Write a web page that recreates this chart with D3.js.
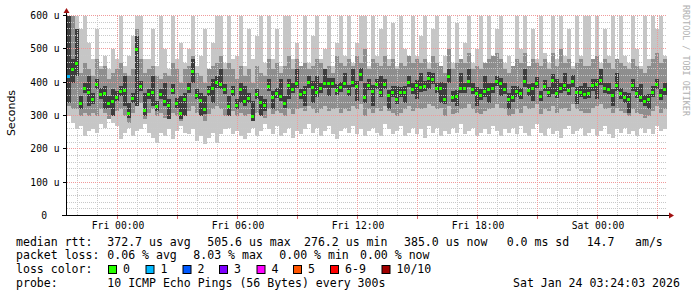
<!DOCTYPE html>
<html>
<head>
<meta charset="utf-8">
<script src="https://cdn.jsdelivr.net/npm/d3@7"></script>
<style>
  body { margin: 0; background: #fff; }
  text { font-family: "DejaVu Sans Mono", monospace; }
</style>
</head>
<body>
<svg id="chart" width="697" height="297"></svg>
<script>
// one sample every 12 minutes, starting Thu 21:30 (UTC)
const startTime = Date.UTC(2026, 0, 22, 21, 30);
const endTime = Date.UTC(2026, 0, 24, 3, 30);
const stepMs = 12 * 60 * 1000;

// median rtt (us)
const median = [
  420,440,460,340,385,372,350,395,366,370,
  340,345,358,374,378,310,355,500,390,318,
  365,372,330,365,344,332,378,340,308,352,
  385,436,364,349,320,374,385,402,395,380,
  329,375,334,380,344,355,300,365,342,332,
  390,356,369,360,340,392,382,400,366,372,
  402,388,372,385,400,398,398,378,386,398,
  376,403,390,425,358,392,376,395,372,395,
  362,372,350,372,372,402,382,392,388,390,
  415,412,385,385,352,420,358,360,384,385,
  405,380,370,364,374,382,385,405,398,382,
  350,358,374,368,405,378,385,398,360,390,
  372,408,370,385,392,378,405,372,372,366,
  370,392,395,408,384,382,362,392,368,356,
  352,392,370,358,345,350,372,395,364,380
];
// samples with lost pings: [sample index, lost of 10]
const lostPings = [[0, 1]];

// outer smoke: fastest / slowest ping
const pingMax = [
  640,640,640,560,600,520,470,560,450,480,
  440,500,470,600,450,480,540,600,620,470,
  470,560,450,600,500,440,600,470,520,460,
  500,600,450,480,560,440,520,600,640,460,
  600,470,480,620,450,560,470,540,600,460,
  640,470,560,450,600,620,470,520,450,600,
  460,540,640,470,500,600,450,520,620,480,
  600,460,520,600,640,450,640,480,560,600,
  470,580,450,620,500,460,600,480,540,640,
  460,560,600,450,480,620,460,580,450,520,
  620,460,500,600,450,640,470,560,600,460,
  480,450,620,500,600,450,560,470,640,490,
  460,600,470,620,480,560,450,640,480,600,
  620,470,640,460,560,480,600,450,620,480,
  460,640,500,450,600,470,640,560,600,480
];
const pingMin = [
  300,280,260,270,240,255,260,250,275,265,
  290,280,270,230,250,265,240,255,260,275,
  250,235,220,250,240,260,230,255,270,250,
  245,260,225,240,215,235,250,220,245,260,
  265,245,255,240,230,250,265,240,255,275,
  260,245,270,240,250,265,235,255,245,260,
  275,250,265,240,255,270,245,230,255,265,
  250,270,245,260,240,255,265,250,240,275,
  260,245,255,270,240,250,265,245,260,235,
  270,250,265,240,255,245,265,250,275,245,
  255,265,240,250,260,245,270,255,240,260,
  250,265,245,270,250,240,260,275,250,240,
  265,245,255,235,260,270,245,255,265,240,
  250,260,240,255,270,245,235,260,250,265,
  245,255,240,265,250,260,245,270,255,260
];
// middle smoke
const midLo = [
  330,320,320,300,310,300,310,300,320,310,
  290,300,315,320,300,280,310,330,340,290,
  310,320,300,310,295,290,310,300,285,310,
  315,330,310,300,285,305,320,330,320,300,
  300,315,300,310,300,305,290,310,300,295,
  320,305,315,310,300,320,305,320,325,315,
  330,320,310,320,330,315,320,325,310,320,
  315,330,320,335,300,320,310,325,315,330,
  315,310,300,310,320,330,315,325,320,325,
  335,330,320,325,300,330,305,310,320,325,
  335,320,310,305,315,320,325,335,325,320,
  300,305,320,310,330,320,325,335,305,320,
  315,330,310,320,325,315,335,320,315,310,
  310,325,330,335,320,325,310,325,315,310,
  300,320,310,305,295,300,315,330,310,320
];
const midHi = [
  640,600,560,430,460,440,420,470,440,450,
  410,430,440,460,430,420,440,560,470,430,
  440,450,420,410,430,420,460,440,400,440,
  450,480,430,420,400,440,450,460,480,440,
  460,440,410,450,420,440,400,450,430,420,
  470,440,460,430,450,480,440,470,450,460,
  440,450,470,460,440,450,430,480,460,450,
  470,450,480,460,500,440,470,460,450,480,
  450,470,440,460,450,480,460,470,460,470,
  440,480,460,450,430,500,440,460,470,460,
  490,440,450,440,460,470,480,490,470,440,
  430,450,470,460,490,450,470,460,450,470,
  440,490,450,500,460,470,440,460,470,450,
  450,470,480,440,470,460,440,470,460,450,
  440,470,450,440,430,450,470,490,460,470
];
// inner smoke
const innerLo = [
  340,400,420,320,370,330,335,380,350,320,
  325,300,345,360,330,295,340,330,375,300,
  350,330,315,350,330,290,365,325,290,300,
  370,400,350,300,305,360,340,385,380,365,
  300,360,320,340,330,340,285,350,300,315,
  375,320,355,345,325,350,368,385,350,330,
  385,340,358,370,385,360,383,362,372,383,
  360,388,345,405,340,377,330,380,358,380,
  320,357,335,357,340,386,367,350,372,375,
  380,395,370,340,337,400,342,330,368,370,
  388,365,330,348,358,340,370,390,360,367,
  320,342,358,352,388,360,345,383,345,374,
  356,365,355,370,376,362,388,335,357,350,
  355,376,350,392,368,366,330,376,352,340,
  310,376,355,342,330,320,356,380,348,364
];
const innerHi = [
  640,470,560,360,400,420,370,410,385,390,
  360,380,375,390,420,340,370,540,405,370,
  380,420,345,380,400,350,395,355,360,370,
  400,470,380,370,360,390,410,420,440,395,
  360,390,350,400,390,370,345,380,360,350,
  410,375,385,410,360,410,398,440,380,390,
  420,405,420,400,440,415,415,395,402,430,
  392,440,405,445,400,410,392,412,420,412,
  378,390,390,388,390,420,398,408,430,405,
  432,430,400,402,400,440,375,378,430,400,
  440,398,386,380,420,398,400,420,415,398,
  370,390,390,384,440,395,400,416,376,408,
  388,425,410,400,430,395,422,388,390,400,
  386,410,412,440,400,398,380,430,385,372,
  370,410,386,395,362,366,390,412,380,400
];

const yTicks = [0, 100, 200, 300, 400, 500, 600];
const lossLabels = ["0", "1", "2", "3", "4", "5", "6-9", "10/10"];
const lossColors = ["#26ff00", "#00b8ff", "#0059ff", "#7e00ff", "#ff00ff", "#ff5500", "#ff0000", "#a10000"];

const rttLine = [["median rtt:", 16], ["372.7 us avg", 107.3], ["505.6 us max", 207.3], ["276.2 us min", 304],
  ["385.0 us now", 404], ["0.0 ms sd", 506.7], ["14.7", 586.7], ["am/s", 635]];
const lossLine = [["packet loss:", 16], ["0.06 % avg", 107.3], ["8.03 % max", 193.3], ["0.00 % min", 279.3], ["0.00 % now", 360]];
const probeLine = [["probe:", 16], ["10 ICMP Echo Pings (56 Bytes) every 300s", 107.3], ["Sat Jan 24 03:24:03 2026", 513]];

const svg = d3.select("#chart");

const x = d3.scaleUtc().domain([new Date(startTime), new Date(endTime)]).range([67, 667]);
const y = d3.scaleLinear().domain([0, 600]).range([216, 16]).clamp(true);

const lostMap = new Map(lostPings);
const samples = median.map((m, i) => ({
  t0: new Date(startTime + i * stepMs),
  t1: new Date(startTime + (i + 1) * stepMs),
  median: m, loss: lostMap.get(i) || 0,
  min: pingMin[i], max: pingMax[i],
  midLo: midLo[i], midHi: midHi[i],
  inLo: innerLo[i], inHi: innerHi[i]
}));

// smoke layers
const layers = [
  { lo: "min", hi: "max", color: "#c6c6c6" },
  { lo: "midLo", hi: "midHi", color: "#8e8e8e" },
  { lo: "inLo", hi: "inHi", color: "#3d3d3d" }
];
layers.forEach(l => {
  svg.append("g").attr("shape-rendering", "crispEdges").selectAll("rect")
    .data(samples)
    .enter().append("rect")
    .attr("x", d => x(d.t0))
    .attr("width", d => x(d.t1) - x(d.t0))
    .attr("y", d => y(d[l.hi]))
    .attr("height", d => y(d[l.lo]) - y(d[l.hi]))
    .attr("fill", l.color);
});

// grid
const grid = svg.append("g").attr("shape-rendering", "crispEdges");
d3.range(20, 601, 20).filter(v => v % 100 !== 0).forEach(v => {
  grid.append("line").attr("x1", 67).attr("x2", 667).attr("y1", y(v) - 0.5).attr("y2", y(v) - 0.5)
    .attr("stroke", "#c8c8c8").attr("stroke-dasharray", "1,1");
});
x.ticks(d3.utcHour.every(1)).forEach(t => {
  if (t.getUTCHours() % 3 === 0) return;
  grid.append("line").attr("x1", x(t) + 0.5).attr("x2", x(t) + 0.5).attr("y1", 16).attr("y2", 215)
    .attr("stroke", "#c8c8c8").attr("stroke-dasharray", "1,1");
});
yTicks.filter(v => v > 0).forEach(v => {
  grid.append("line").attr("x1", 67).attr("x2", 667).attr("y1", y(v) - 0.5).attr("y2", y(v) - 0.5)
    .attr("stroke", "#f09a9a").attr("stroke-dasharray", "1,1");
});
x.ticks(d3.utcHour.every(3)).forEach(t => {
  grid.append("line").attr("x1", x(t) + 0.5).attr("x2", x(t) + 0.5).attr("y1", 16).attr("y2", 215)
    .attr("stroke", "#f09a9a").attr("stroke-dasharray", "1,1");
  grid.append("line").attr("x1", x(t) + 0.5).attr("x2", x(t) + 0.5).attr("y1", 216).attr("y2", 219)
    .attr("stroke", "#e07070");
});

// medians coloured by loss
const lossColor = n => n === 0 ? lossColors[0] : n >= 10 ? lossColors[7] : n >= 6 ? lossColors[6] : lossColors[n];
svg.append("g").attr("shape-rendering", "crispEdges").selectAll("rect")
  .data(samples)
  .enter().append("rect")
  .attr("x", d => x(d.t0))
  .attr("y", d => Math.round(y(d.median)) - 1)
  .attr("width", 3)
  .attr("height", 3)
  .attr("fill", d => lossColor(d.loss));

// axes
const axes = svg.append("g").attr("shape-rendering", "crispEdges");
axes.append("line").attr("x1", 66.5).attr("x2", 66.5).attr("y1", 12).attr("y2", 216).attr("stroke", "#000");
axes.append("line").attr("x1", 62).attr("x2", 670).attr("y1", 215.5).attr("y2", 215.5).attr("stroke", "#000");
yTicks.forEach(v => {
  axes.append("line").attr("x1", 63).attr("x2", 66).attr("y1", y(v) - 0.5).attr("y2", y(v) - 0.5).attr("stroke", "#000");
});
svg.append("path").attr("d", "M63.5,13 L69.5,13 L66.5,8 Z").attr("fill", "#a01010");
svg.append("path").attr("d", "M669,212.5 L669,218.5 L674,215.5 Z").attr("fill", "#a01010");

svg.append("g").selectAll("text")
  .data(yTicks)
  .enter().append("text")
  .attr("x", d => d ? 59.5 : 47)
  .attr("y", d => y(d) + 3)
  .attr("text-anchor", "end")
  .attr("font-size", "9.7px")
  .attr("fill", "#000")
  .text(d => d ? d + " u" : "0");

const fmt = d3.utcFormat("%a %H:%M");
svg.append("g").selectAll("text")
  .data(x.ticks(d3.utcHour.every(6)))
  .enter().append("text")
  .attr("x", d => x(d) + 1)
  .attr("y", 228.5)
  .attr("text-anchor", "middle")
  .attr("font-size", "9.7px")
  .text(d => fmt(d));

svg.append("text")
  .attr("transform", "translate(14.5,113) rotate(-90)")
  .attr("text-anchor", "middle")
  .style("font-family", "'DejaVu Sans', sans-serif")
  .attr("font-size", "11px")
  .text("Seconds");

svg.append("text")
  .attr("transform", "translate(683,5) rotate(90)")
  .attr("font-size", "8.4px")
  .attr("fill", "#b0b0b0")
  .text("RRDTOOL / TOBI OETIKER");

// legend
const legendRow = (items, baseline) => {
  svg.append("g").selectAll("text")
    .data(items)
    .enter().append("text")
    .attr("x", d => d[1])
    .attr("y", baseline)
    .attr("font-size", "11.55px")
    .text(d => d[0]);
};
legendRow(rttLine, 245.5);
legendRow(lossLine, 259.3);
legendRow([["loss color:", 16]], 273);
legendRow(probeLine, 286.8);

const lossX = [108, 145.5, 182.5, 219, 256.5, 293, 330, 381.5];
const key = svg.append("g");
lossLabels.forEach((lab, i) => {
  key.append("rect").attr("x", lossX[i] + 0.5).attr("y", 265.5).attr("width", 8).attr("height", 8)
    .attr("fill", lossColors[i]).attr("stroke", "#000").attr("stroke-width", 1);
  key.append("text").attr("x", lossX[i] + 15).attr("y", 273).attr("font-size", "11.55px").text(lab);
});
</script>
</body>
</html>
